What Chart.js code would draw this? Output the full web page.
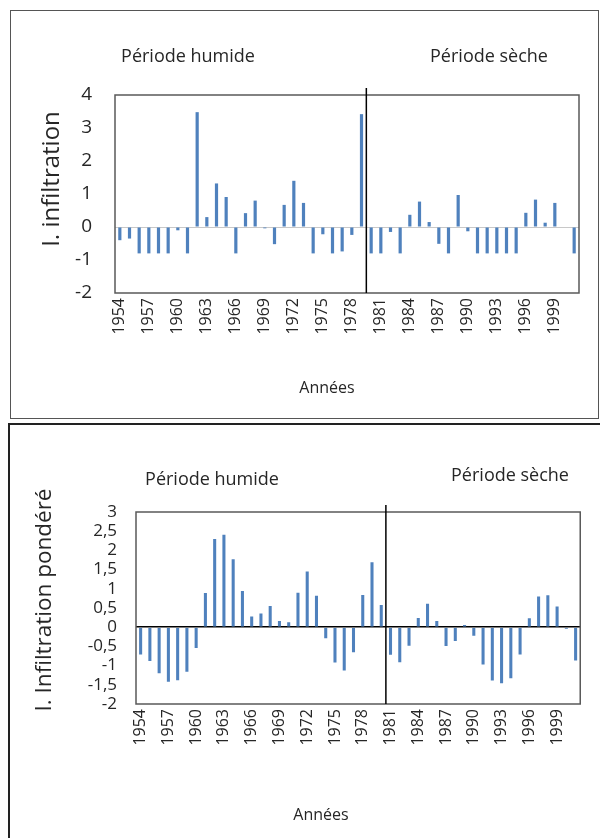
<!DOCTYPE html>
<html>
<head>
<meta charset="utf-8">
<script src="https://cdn.jsdelivr.net/npm/chart.js@4.4.1/dist/chart.umd.min.js"></script>
<style>
  body { margin: 0; background: #fff; }
  #page { position: relative; width: 600px; height: 838px; overflow: hidden; background: #fff; }
  canvas { position: absolute; left: 0; }
  .frame { position: absolute; box-sizing: border-box; pointer-events: none; }
</style>
</head>
<body>
<div id="page">
  <canvas id="top" width="600" height="420" style="top:0"></canvas>
  <canvas id="bottom" width="600" height="418" style="top:420px"></canvas>
  <div class="frame" style="left:10px;top:10px;width:589px;height:409px;border:1.5px solid #555"></div>
  <div class="frame" style="left:8px;top:423px;width:600px;height:430px;border:2.5px solid #222"></div>
</div>
<script>
// data
const years = [1954, 1955, 1956, 1957, 1958, 1959, 1960, 1961, 1962, 1963, 1964, 1965,
  1966, 1967, 1968, 1969, 1970, 1971, 1972, 1973, 1974, 1975, 1976, 1977,
  1978, 1979, 1980, 1981, 1982, 1983, 1984, 1985, 1986, 1987, 1988, 1989,
  1990, 1991, 1992, 1993, 1994, 1995, 1996, 1997, 1998, 1999, 2000, 2001];
const tickYears = [1954, 1957, 1960, 1963, 1966, 1969, 1972, 1975, 1978, 1981, 1984, 1987, 1990, 1993, 1996, 1999];

const infiltration = [-0.40, -0.35, -0.80, -0.80, -0.80, -0.80, -0.10, -0.80,
  3.48, 0.30, 1.32, 0.91, -0.80, 0.42, 0.80, -0.04,
  -0.52, 0.67, 1.40, 0.73, -0.80, -0.22, -0.80, -0.74,
  -0.24, 3.42, -0.80, -0.80, -0.15, -0.80, 0.37, 0.77,
  0.15, -0.51, -0.80, 0.97, -0.13, -0.80, -0.80, -0.80,
  -0.80, -0.80, 0.43, 0.83, 0.13, 0.73, 0.00, -0.80];

const infiltrationPonderee = [-0.71, -0.88, -1.20, -1.42, -1.38, -1.16, -0.54, 0.89,
  2.30, 2.41, 1.77, 0.94, 0.28, 0.36, 0.55, 0.16,
  0.13, 0.90, 1.45, 0.82, -0.29, -0.92, -1.13, -0.65,
  0.84, 1.69, 0.58, -0.72, -0.91, -0.48, 0.24, 0.61,
  0.16, -0.49, -0.36, 0.06, -0.22, -0.97, -1.39, -1.46,
  -1.33, -0.71, 0.23, 0.80, 0.83, 0.54, -0.04, -0.87];

const lastWetYearTop = 1979;
const lastWetYearBottom = 1980;

const barColor = '#4f81bd';
const textColor = '#262626';
const FONT = "'Open Sans', sans-serif";

// draws frame of plot, separator line and the text labels
const decorations = {
  id: 'decorations',
  afterDraw(chart, args, o) {
    const ctx = chart.ctx;
    const a = chart.chartArea;
    const x = chart.scales.x;
    ctx.save();
    ctx.strokeStyle = '#595959';
    ctx.lineWidth = 1.5;
    ctx.strokeRect(a.left, a.top, a.right - a.left, a.bottom - a.top);

    const i = years.indexOf(o.lastWet);
    const sx = (x.getPixelForValue(i) + x.getPixelForValue(i + 1)) / 2;
    ctx.strokeStyle = '#000';
    ctx.lineWidth = 1.5;
    ctx.beginPath();
    ctx.moveTo(sx, o.sepTop);
    ctx.lineTo(sx, a.bottom);
    ctx.stroke();

    ctx.fillStyle = textColor;
    ctx.textAlign = 'center';
    ctx.textBaseline = 'middle';
    ctx.font = '18px ' + FONT;
    ctx.fillText('Période humide', o.wet[0], o.wet[1]);
    ctx.fillText('Période sèche', o.dry[0], o.dry[1]);
    ctx.font = '16px ' + FONT;
    ctx.fillText('Années', o.xTitle[0], o.xTitle[1]);
    ctx.translate(o.yTitle[0], o.yTitle[1]);
    ctx.rotate(-Math.PI / 2);
    ctx.font = o.yTitleSize + 'px ' + FONT;
    ctx.fillText(o.yTitle[2], 0, 0);
    ctx.restore();
  }
};

function makeChart(id, values, cfg) {
  const ctx = document.getElementById(id).getContext('2d');
  return new Chart(ctx, {
    type: 'bar',
    data: {
      labels: years,
      datasets: [{
        data: values,
        backgroundColor: barColor,
        barPercentage: 0.33,
        categoryPercentage: 1
      }]
    },
    options: {
      responsive: false,
      animation: false,
      layout: { padding: { top: cfg.top, right: cfg.right, left: 0, bottom: 0 } },
      plugins: {
        legend: { display: false },
        tooltip: { enabled: false },
        decorations: cfg.deco
      },
      scales: {
        x: {
          grid: { display: false, drawTicks: false },
          border: { display: false },
          afterFit: s => { s.height = cfg.xHeight; },
          ticks: {
            autoSkip: false,
            minRotation: 90,
            maxRotation: 90,
            padding: 5,
            color: textColor,
            font: { family: FONT, size: 16 },
            callback: (v, i) => tickYears.includes(years[i]) ? String(years[i]) : ''
          }
        },
        y: {
          min: cfg.min,
          max: cfg.max,
          afterFit: s => { s.width = cfg.left; },
          border: { display: false },
          grid: {
            drawTicks: false,
            color: c => c.tick && c.tick.value === 0 ? cfg.zeroColor : 'transparent',
            lineWidth: cfg.zeroWidth
          },
          ticks: {
            stepSize: cfg.step,
            autoSkip: false,
            padding: cfg.tickPad,
            color: textColor,
            font: { family: FONT, size: cfg.tickSize, lineHeight: 1 },
            callback: v => String(v).replace('.', ',')
          }
        }
      }
    },
    plugins: [decorations]
  });
}

makeChart('top', infiltration, {
  top: 95, right: 21, left: 115, xHeight: 127,
  min: -2, max: 4, step: 1, tickPad: 23, tickSize: 19,
  zeroColor: '#c8c8c8', zeroWidth: 1,
  deco: {
    lastWet: lastWetYearTop, sepTop: 88,
    wet: [188, 57], dry: [489, 57],
    xTitle: [327, 388],
    yTitle: [52, 179, 'I. infiltration'], yTitleSize: 24
  }
});

makeChart('bottom', infiltrationPonderee, {
  top: 92, right: 18, left: 136, xHeight: 134,
  min: -2, max: 3, step: 0.5, tickPad: 19, tickSize: 17,
  zeroColor: '#000', zeroWidth: 1.5,
  deco: {
    lastWet: lastWetYearBottom, sepTop: 85,
    wet: [212, 60], dry: [510, 56],
    xTitle: [321, 395],
    yTitle: [45, 180, 'I. Infiltration pondéré'], yTitleSize: 22.5
  }
});
</script>
</body>
</html>
